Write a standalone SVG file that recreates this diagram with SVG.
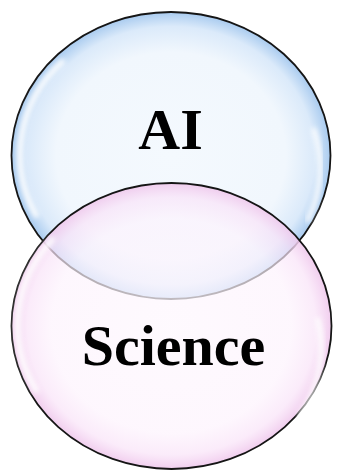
<svg xmlns="http://www.w3.org/2000/svg" width="337" height="471" viewBox="0 0 337 471">
<defs>
<radialGradient id="gBlue" cx="0.5" cy="0.5" r="0.5">
<stop offset="0" stop-color="#f4f9fe"/>
<stop offset="0.72" stop-color="#f1f7fd"/>
<stop offset="0.9" stop-color="#dbeafa"/>
<stop offset="1" stop-color="#a9cbef"/>
</radialGradient>
<radialGradient id="gPink" cx="0.5" cy="0.5" r="0.5">
<stop offset="0" stop-color="#fef8fe" stop-opacity="0.75"/>
<stop offset="0.75" stop-color="#fdf3fd" stop-opacity="0.68"/>
<stop offset="0.9" stop-color="#f9e3f8" stop-opacity="0.7"/>
<stop offset="1" stop-color="#efc8ec" stop-opacity="0.9"/>
</radialGradient>
<filter id="blur" x="-20%" y="-20%" width="140%" height="140%">
<feGaussianBlur stdDeviation="2.5"/>
</filter>
</defs>
<style>
.rim{stroke:#151515;stroke-width:1.8}
.hl{fill:none;stroke:#ffffff;stroke-linecap:round;filter:url(#blur)}
.lbl{font-family:"Liberation Serif","Times New Roman",serif;font-weight:bold;font-size:58px;fill:#000;text-anchor:middle}
</style>
<g id="ai">
<ellipse cx="171" cy="155.5" rx="159.5" ry="143.5" fill="url(#gBlue)" class="rim"/>
<path class="hl" stroke-width="6" opacity="0.9" d="M 36 215 A 140 130 0 0 1 62 62"/>
<path class="hl" stroke-width="5" opacity="0.9" d="M 308 220 A 145 130 0 0 0 314 130"/>
<text class="lbl" x="170.5" y="149">AI</text>
</g>
<g id="science">
<ellipse cx="171.5" cy="326" rx="160" ry="143" fill="url(#gPink)" class="rim"/>
<path class="hl" stroke-width="6" opacity="0.9" d="M 36 390 A 140 130 0 0 1 52 240"/>
<path class="hl" stroke-width="5" opacity="0.9" d="M 300 415 A 145 130 0 0 0 318 320"/>
<text class="lbl" x="173.5" y="365">Science</text>
</g>
<g id="connectors"/>
</svg>
